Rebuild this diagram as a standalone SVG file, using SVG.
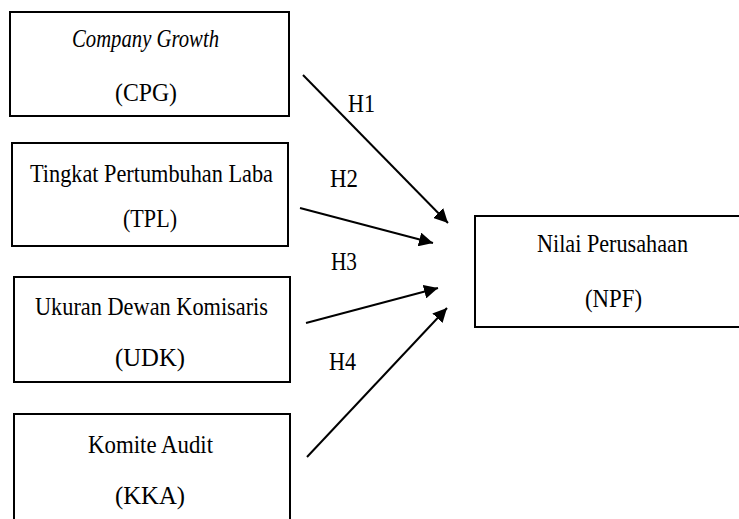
<svg xmlns="http://www.w3.org/2000/svg" width="739" height="519" viewBox="0 0 739 519">
<style>
rect{fill:#fff;stroke:#000;stroke-width:2}
text{font-family:'Liberation Serif','DejaVu Serif',serif;font-size:26px;fill:#000}
.c{stroke:#000;stroke-width:2;fill:none}
</style>
<defs>
<marker id="ah" viewBox="0 0 10 10" refX="10" refY="5" markerWidth="7" markerHeight="7" markerUnits="strokeWidth" orient="auto">
<path d="M0,0 L10,5 L0,10 z" fill="#000"/>
</marker>
</defs>
<rect x="0" y="0" width="739" height="519" style="stroke:none"/>
<g id="cpg">
<rect x="10" y="12" width="279" height="104"/>
<text x="72" y="47" font-style="italic" textLength="147" lengthAdjust="spacingAndGlyphs">Company Growth</text>
<text x="115" y="101" textLength="62" lengthAdjust="spacingAndGlyphs">(CPG)</text>
</g>
<g id="tpl">
<rect x="12" y="143" width="276" height="103"/>
<text x="30" y="182" textLength="243" lengthAdjust="spacingAndGlyphs">Tingkat Pertumbuhan Laba</text>
<text x="123" y="227" textLength="54" lengthAdjust="spacingAndGlyphs">(TPL)</text>
</g>
<g id="udk">
<rect x="14" y="277" width="276" height="105"/>
<text x="35" y="315" textLength="233" lengthAdjust="spacingAndGlyphs">Ukuran Dewan Komisaris</text>
<text x="115" y="366" textLength="70" lengthAdjust="spacingAndGlyphs">(UDK)</text>
</g>
<g id="kka">
<rect x="14" y="414" width="276" height="120"/>
<text x="88" y="453" textLength="125" lengthAdjust="spacingAndGlyphs">Komite Audit</text>
<text x="115" y="504" textLength="70" lengthAdjust="spacingAndGlyphs">(KKA)</text>
</g>
<g id="npf">
<rect x="475" y="216" width="280" height="111"/>
<text x="537" y="252" textLength="151" lengthAdjust="spacingAndGlyphs">Nilai Perusahaan</text>
<text x="585" y="307" textLength="57" lengthAdjust="spacingAndGlyphs">(NPF)</text>
</g>
<g id="connectors">
<line class="c" x1="303" y1="75" x2="448" y2="223" marker-end="url(#ah)"/>
<line class="c" x1="300" y1="208" x2="433" y2="243" marker-end="url(#ah)"/>
<line class="c" x1="306" y1="323" x2="438" y2="288" marker-end="url(#ah)"/>
<line class="c" x1="307" y1="457" x2="447" y2="308" marker-end="url(#ah)"/>
<text x="348" y="112" textLength="27" lengthAdjust="spacingAndGlyphs">H1</text>
<text x="330" y="187" textLength="28" lengthAdjust="spacingAndGlyphs">H2</text>
<text x="331" y="270" textLength="26" lengthAdjust="spacingAndGlyphs">H3</text>
<text x="329" y="370" textLength="27" lengthAdjust="spacingAndGlyphs">H4</text>
</g>
</svg>
